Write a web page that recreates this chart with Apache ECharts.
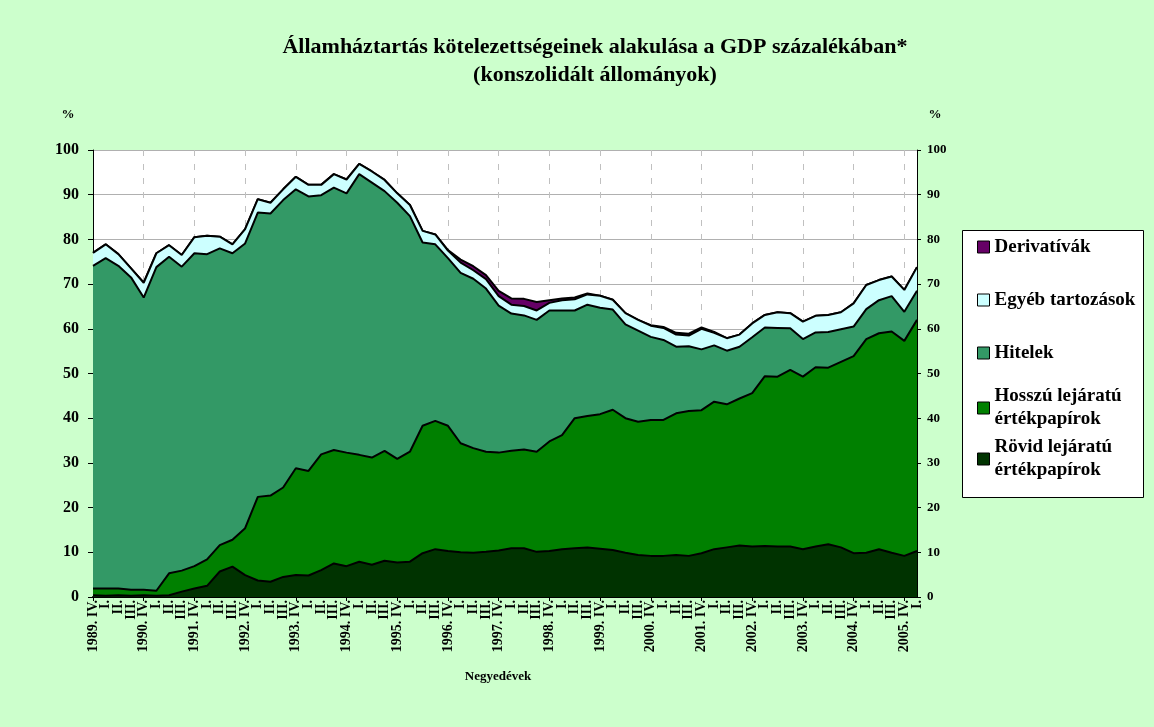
<!DOCTYPE html>
<html>
<head>
<meta charset="utf-8">
<title>Államháztartás kötelezettségei</title>
<script src="https://cdn.jsdelivr.net/npm/echarts@6.0.0/dist/echarts.min.js"></script>
<style>
  html, body { margin: 0; padding: 0; background: #ccffcc; }
  #chart { width: 1154px; height: 727px; }
</style>
</head>
<body>
<div id="chart"></div>
<script>
// negyedévek (1989. IV. - 2005. I.)
const quarters = [
  '1989. IV.', 'I.', 'II.', 'III.', '1990. IV.', 'I.', 'II.', 'III.', '1991. IV.', 'I.', 'II.', 'III.',
  '1992. IV.', 'I.', 'II.', 'III.', '1993. IV.', 'I.', 'II.', 'III.', '1994. IV.', 'I.', 'II.', 'III.',
  '1995. IV.', 'I.', 'II.', 'III.', '1996. IV.', 'I.', 'II.', 'III.', '1997. IV.', 'I.', 'II.', 'III.',
  '1998. IV.', 'I.', 'II.', 'III.', '1999. IV.', 'I.', 'II.', 'III.', '2000. IV.', 'I.', 'II.', 'III.',
  '2001. IV.', 'I.', 'II.', 'III.', '2002. IV.', 'I.', 'II.', 'III.', '2003. IV.', 'I.', 'II.', 'III.',
  '2004. IV.', 'I.', 'II.', 'III.', '2005. IV.', 'I.'
];

// a GDP százalékában
const rovid = [
  0.4, 0.3, 0.4, 0.3, 0.4, 0.3, 0.4, 1.2, 1.9, 2.5,
  5.7, 6.8, 4.9, 3.7, 3.4, 4.5, 4.9, 4.8, 6.0, 7.5,
  6.9, 7.9, 7.2, 8.1, 7.7, 7.9, 9.8, 10.7, 10.3, 10.0,
  9.9, 10.1, 10.4, 10.9, 10.9, 10.1, 10.3, 10.7, 10.9, 11.1,
  10.8, 10.5, 9.9, 9.4, 9.2, 9.2, 9.4, 9.2, 9.8, 10.7,
  11.1, 11.5, 11.3, 11.4, 11.3, 11.3, 10.7, 11.3, 11.8, 11.1,
  9.8, 9.9, 10.7, 9.9, 9.2, 10.3
];
const hosszu = [
  1.5, 1.6, 1.5, 1.3, 1.2, 1.1, 4.9, 4.7, 5.0, 5.9,
  5.9, 6.0, 10.5, 18.7, 19.3, 20.0, 23.9, 23.4, 25.9, 25.4,
  25.4, 23.9, 24.0, 24.6, 23.2, 24.6, 28.5, 28.7, 28.0, 24.4,
  23.4, 22.4, 21.9, 21.8, 22.1, 22.4, 24.5, 25.5, 29.1, 29.4,
  30.1, 31.4, 30.1, 29.8, 30.4, 30.4, 31.7, 32.4, 32.0, 33.0,
  32.0, 32.9, 34.3, 38.0, 38.0, 39.5, 38.6, 40.1, 39.5, 41.5,
  44.1, 47.8, 48.3, 49.5, 48.1, 51.7
];
const hitelek = [
  72.2, 73.9, 72.2, 69.9, 65.4, 72.4, 70.8, 68.0, 70.0, 68.3,
  66.4, 64.1, 63.7, 63.6, 63.1, 64.3, 62.4, 61.4, 58.0, 58.7,
  58.0, 62.8, 61.5, 58.1, 57.3, 52.7, 41.0, 39.5, 37.5, 38.1,
  37.9, 36.5, 32.9, 30.7, 30.0, 29.5, 29.3, 27.9, 24.1, 24.9,
  23.8, 22.4, 21.0, 20.4, 18.6, 17.9, 14.9, 14.5, 13.6, 12.6,
  12.0, 11.6, 12.5, 10.9, 10.9, 9.3, 8.4, 7.8, 8.0, 7.3,
  6.6, 6.7, 7.4, 7.9, 6.5, 6.5
];
const egyeb = [
  2.9, 3.1, 2.6, 2.0, 3.3, 3.1, 2.6, 2.6, 3.6, 4.1,
  2.6, 2.0, 3.2, 3.0, 2.4, 2.4, 2.8, 2.6, 2.3, 3.0,
  3.1, 2.3, 2.5, 2.5, 2.1, 2.5, 2.6, 2.2, 1.7, 2.3,
  1.9, 2.1, 2.1, 2.0, 2.1, 2.1, 1.7, 2.3, 2.5, 2.3,
  2.7, 2.2, 2.5, 2.4, 2.5, 2.7, 2.7, 2.4, 4.6, 2.8,
  2.8, 2.7, 3.1, 2.8, 3.5, 3.4, 3.9, 3.7, 3.8, 3.8,
  5.2, 5.4, 4.5, 4.4, 4.9, 5.3
];
const derivativak = [
  0, 0, 0, 0, 0, 0, 0, 0, 0, 0,
  0, 0, 0, 0, 0, 0, 0, 0, 0, 0,
  0, 0, 0, 0, 0, 0, 0, 0, 0.1, 0.7,
  0.9, 0.9, 1.2, 1.4, 1.6, 1.9, 0.6, 0.4, 0.4, 0.2,
  0, 0, 0, 0, 0.1, 0.2, 0.4, 0.4, 0.3, 0.2,
  0, 0, 0, 0, 0, 0, 0, 0, 0, 0,
  0, 0, 0, 0, 0, 0
];

const yTicks = [0, 100, 10]; // min, max, lépés

const FONT = '"Liberation Serif", "Times New Roman", serif';

const chart = echarts.init(document.getElementById('chart'));

// egy sorozat beállításai
const makeSeries = (name, data, color, z) => ({
  name: name,
  type: 'line',
  stack: 'total',
  data: data,
  symbol: 'none',
  z: z,
  itemStyle: { color: color },
  lineStyle: { color: '#000', width: 2 },
  areaStyle: { color: color, opacity: 1 },
  emphasis: { disabled: true }
});

// jelmagyarázat – egy tétel egy legendában
const makeLegend = (name, top, twoLines) => ({
  data: [name],
  orient: 'vertical',
  left: 977,
  top: top,
  padding: 0,
  icon: 'rect',
  itemWidth: 12,
  itemHeight: 12,
  selectedMode: false,
  itemStyle: { borderColor: '#000', borderWidth: 1 },
  textStyle: {
    fontFamily: FONT,
    fontWeight: 'bold',
    fontSize: 19,
    color: '#000',
    lineHeight: 23,
    padding: twoLines ? [23, 0, 0, 0] : 0
  }
});

const isYearTick = (index) => index % 4 === 0;

const option = {
  backgroundColor: '#ccffcc',
  animation: false,
  title: {
    text: 'Államháztartás kötelezettségeinek alakulása a GDP százalékában*\n(konszolidált állományok)',
    left: 590,
    top: 28,
    textAlign: 'center',
    textStyle: {
      fontFamily: FONT,
      fontWeight: 'bold',
      fontSize: 22,
      lineHeight: 28,
      color: '#000'
    }
  },
  legend: [
    makeLegend('Derivatívák', 235.5, false),
    makeLegend('Egyéb tartozások', 288.5, false),
    makeLegend('Hitelek', 341.5, false),
    makeLegend('Hosszú lejáratú\nértékpapírok', 373.5, true),
    makeLegend('Rövid lejáratú\nértékpapírok', 424.5, true)
  ],
  graphic: [
    {
      type: 'rect',
      z: 0,
      shape: { x: 962.5, y: 230.5, width: 181, height: 267 },
      style: { fill: '#fff', stroke: '#000', lineWidth: 1 }
    },
    {
      type: 'text', x: 68, y: 115,
      style: { text: '%', font: 'bold 13px ' + FONT, fill: '#000', align: 'center', verticalAlign: 'middle' }
    },
    {
      type: 'text', x: 935, y: 115,
      style: { text: '%', font: 'bold 13px ' + FONT, fill: '#000', align: 'center', verticalAlign: 'middle' }
    },
    {
      type: 'text', x: 498, y: 677,
      style: { text: 'Negyedévek', font: 'bold 13px ' + FONT, fill: '#000', align: 'center', verticalAlign: 'middle' }
    }
  ],
  grid: {
    left: 93,
    right: 237,
    top: 150,
    bottom: 130,
    show: true,
    backgroundColor: '#fff',
    borderWidth: 0,
    containLabel: false,
    outerBoundsMode: 'none'
  },
  xAxis: {
    type: 'category',
    data: quarters,
    boundaryGap: false,
    axisLine: { lineStyle: { color: '#000', width: 2 } },
    axisTick: { interval: isYearTick, length: 4, lineStyle: { color: '#000' } },
    axisLabel: {
      interval: 0,
      rotate: 90,
      margin: 3,
      fontFamily: FONT,
      fontWeight: 'bold',
      fontSize: 14,
      color: '#000'
    },
    splitLine: {
      show: true,
      interval: isYearTick,
      lineStyle: { color: '#c0c0c0', type: [6, 8], width: 1 }
    }
  },
  yAxis: [
    {
      type: 'value',
      min: yTicks[0],
      max: yTicks[1],
      interval: yTicks[2],
      position: 'left',
      axisLine: { show: true, lineStyle: { color: '#000' } },
      axisTick: { show: true, length: 5, lineStyle: { color: '#000' } },
      axisLabel: { margin: 14, fontFamily: FONT, fontWeight: 'bold', fontSize: 16, color: '#000' },
      splitLine: { show: true, lineStyle: { color: '#b0b0b0', width: 1 } }
    },
    {
      type: 'value',
      min: yTicks[0],
      max: yTicks[1],
      interval: yTicks[2],
      position: 'right',
      axisLine: { show: true, lineStyle: { color: '#000' } },
      axisTick: { show: true, length: 4, lineStyle: { color: '#000' } },
      axisLabel: { margin: 10, fontFamily: FONT, fontWeight: 'bold', fontSize: 13, color: '#000' },
      splitLine: { show: false }
    }
  ],
  series: [
    makeSeries('Rövid lejáratú\nértékpapírok', rovid, '#003300', 7),
    makeSeries('Hosszú lejáratú\nértékpapírok', hosszu, '#008000', 6),
    makeSeries('Hitelek', hitelek, '#339966', 5),
    makeSeries('Egyéb tartozások', egyeb, '#ccffff', 4),
    makeSeries('Derivatívák', derivativak, '#660066', 3)
  ]
};

chart.setOption(option);
</script>
</body>
</html>
